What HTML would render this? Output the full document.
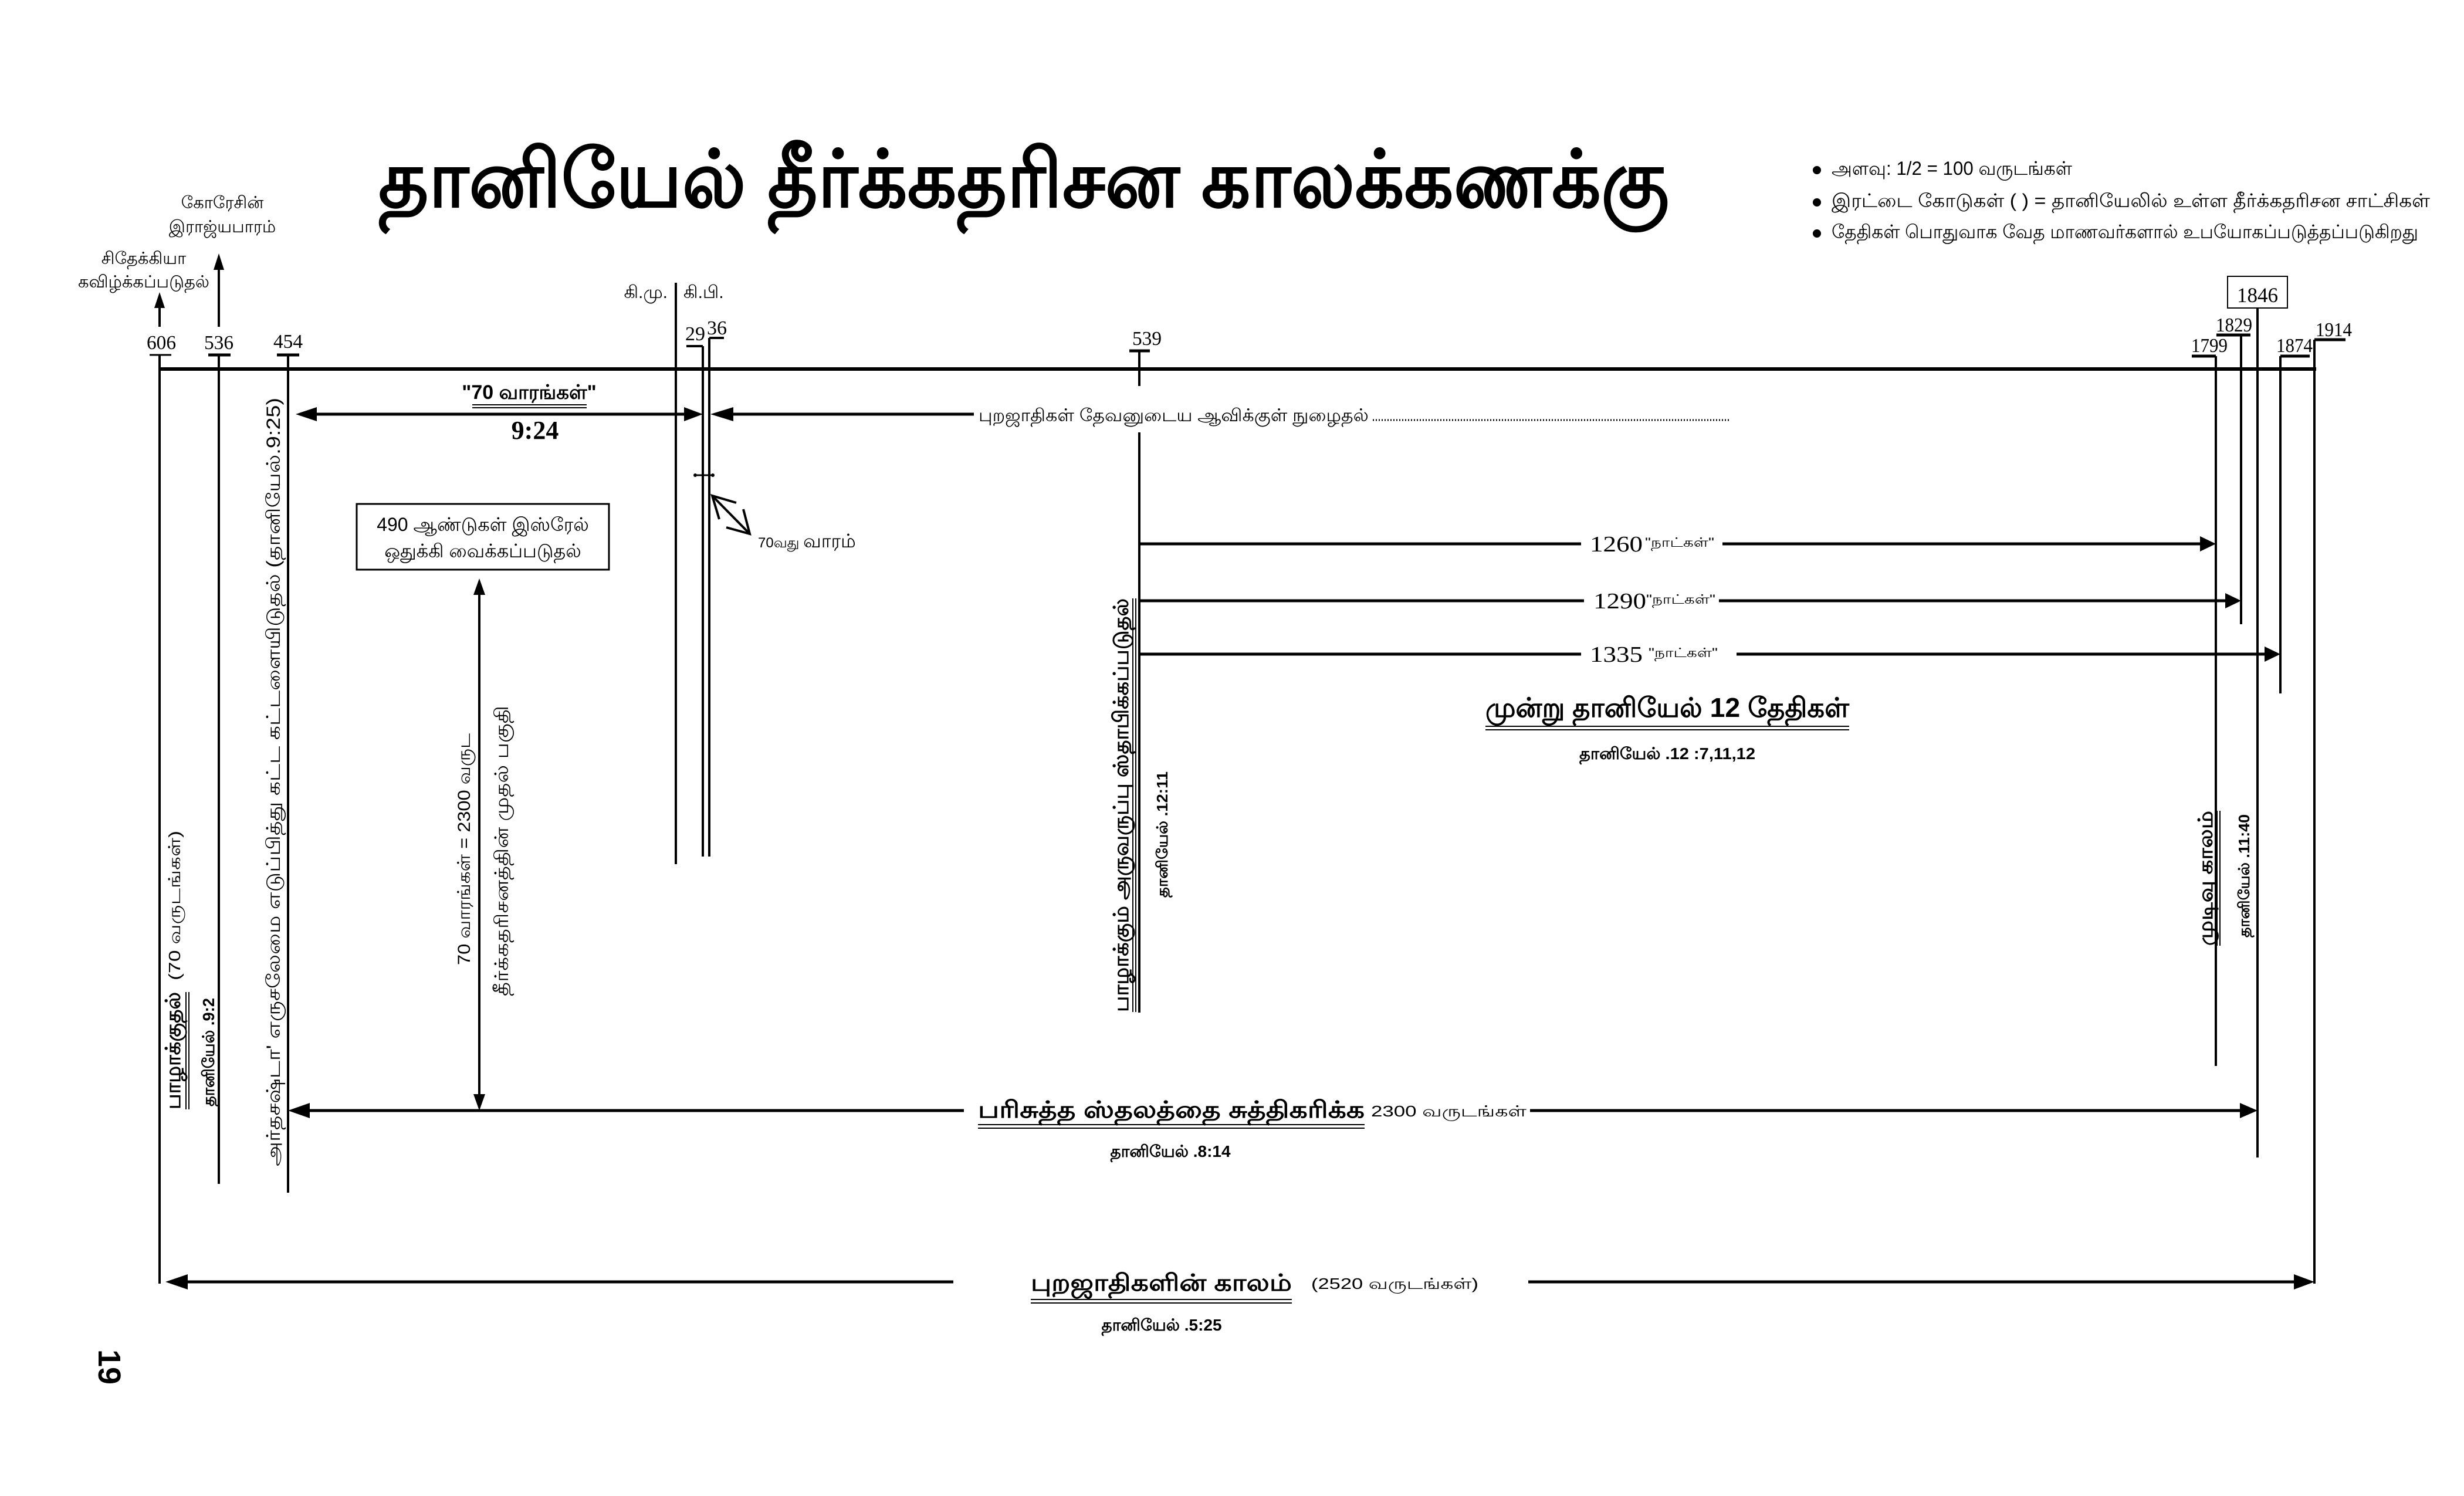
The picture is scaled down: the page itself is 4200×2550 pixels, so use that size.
<!DOCTYPE html>
<html><head><meta charset="utf-8"><style>
html,body{margin:0;padding:0;background:#fff;}
svg{display:block;}
text{font-family:"Liberation Sans","Noto Sans CJK JP",sans-serif;fill:#000;}
.s{font-family:"Liberation Serif","Noto Serif CJK SC",serif;}
</style></head><body>
<svg width="4200" height="2550" viewBox="0 0 4200 2550" xmlns="http://www.w3.org/2000/svg">
<rect width="4200" height="2550" fill="#fff"/>

<!-- Title -->
<text x="1745" y="352" font-size="135" font-weight="bold" text-anchor="middle" textLength="2200" lengthAdjust="spacingAndGlyphs">தானியேல் தீர்க்கதரிசன காலக்கணக்கு</text>

<!-- Legend -->
<g font-size="32">
<circle cx="3097" cy="290" r="7"/><text x="3122" y="298" textLength="410" lengthAdjust="spacingAndGlyphs">அளவு: 1/2 = 100 வருடங்கள்</text>
<circle cx="3097" cy="345" r="7"/><text x="3122" y="353" textLength="1020" lengthAdjust="spacingAndGlyphs">இரட்டை கோடுகள் (     ) = தானியேலில் உள்ள தீர்க்கதரிசன சாட்சிகள்</text>
<circle cx="3097" cy="398" r="7"/><text x="3122" y="406" textLength="1000" lengthAdjust="spacingAndGlyphs">தேதிகள் பொதுவாக வேத மாணவர்களால் உபயோகப்படுத்தப்படுகிறது</text>
</g>

<!-- Top-left labels -->
<g font-size="29" text-anchor="middle">
<text x="379" y="355">கோரேசின்</text>
<text x="379" y="396">இராஜ்யபாரம்</text>
<text x="245" y="450">சிதேக்கியா</text>
<text x="245" y="490">கவிழ்க்கப்படுதல்</text>
</g>
<g stroke="#000" stroke-width="4">
<line x1="272" y1="557" x2="272" y2="520"/>
<line x1="373" y1="557" x2="373" y2="455"/>
</g>
<polygon points="272,498 263,525 281,525"/>
<polygon points="373,432 364,460 382,460"/>

<!-- Main horizontal line -->
<line x1="272" y1="629" x2="3948" y2="629" stroke="#000" stroke-width="6"/>

<!-- Year ticks and labels -->
<g class="s" font-size="34" text-anchor="middle">
<text class="s" x="275" y="595" textLength="50" lengthAdjust="spacingAndGlyphs">606</text>
<text class="s" x="373" y="595" textLength="50" lengthAdjust="spacingAndGlyphs">536</text>
<text class="s" x="491" y="593" textLength="50" lengthAdjust="spacingAndGlyphs">454</text>
<text class="s" x="1185" y="580" textLength="34" lengthAdjust="spacingAndGlyphs">29</text>
<text class="s" x="1222" y="570" textLength="34" lengthAdjust="spacingAndGlyphs">36</text>
<text class="s" x="1955" y="588" textLength="50" lengthAdjust="spacingAndGlyphs">539</text>
<text class="s" x="3766" y="600" textLength="62" lengthAdjust="spacingAndGlyphs">1799</text>
<text class="s" x="3808" y="565" textLength="62" lengthAdjust="spacingAndGlyphs">1829</text>
<text class="s" x="3911" y="600" textLength="62" lengthAdjust="spacingAndGlyphs">1874</text>
<text class="s" x="3978" y="573" textLength="62" lengthAdjust="spacingAndGlyphs">1914</text>
<text class="s" x="3848" y="515" font-size="36" textLength="70" lengthAdjust="spacingAndGlyphs">1846</text>
</g>
<rect x="3797" y="471" width="102" height="54" fill="none" stroke="#000" stroke-width="2"/>
<g stroke="#000">
<line x1="255" y1="605" x2="292" y2="605" stroke-width="3"/>
<line x1="355" y1="605" x2="393" y2="605" stroke-width="5"/>
<line x1="472" y1="605" x2="510" y2="605" stroke-width="5"/>
<line x1="1170" y1="590" x2="1198" y2="590" stroke-width="4"/>
<line x1="1209" y1="576" x2="1234" y2="576" stroke-width="4"/>
<line x1="1925" y1="598" x2="1960" y2="598" stroke-width="5"/>
<line x1="3736" y1="607" x2="3777" y2="607" stroke-width="5"/>
<line x1="3778" y1="571" x2="3836" y2="571" stroke-width="5"/>
<line x1="3887" y1="607" x2="3937" y2="607" stroke-width="5"/>
<line x1="3945" y1="579" x2="3998" y2="579" stroke-width="5"/>
</g>

<!-- Vertical lines -->
<g stroke="#000" stroke-width="4">
<line x1="272" y1="605" x2="272" y2="2188"/>
<line x1="373" y1="605" x2="373" y2="2018"/>
<line x1="491" y1="605" x2="491" y2="2033"/>
<line x1="1152" y1="482" x2="1152" y2="1473"/>
<line x1="1198" y1="590" x2="1198" y2="1460"/>
<line x1="1209" y1="576" x2="1209" y2="1460"/>
<line x1="1942" y1="598" x2="1942" y2="658"/>
<line x1="1942" y1="737" x2="1942" y2="1726"/>
<line x1="3777" y1="607" x2="3777" y2="1817"/>
<line x1="3820" y1="571" x2="3820" y2="1064"/>
<line x1="3848" y1="525" x2="3848" y2="1973"/>
<line x1="3887" y1="607" x2="3887" y2="1182"/>
<line x1="3945" y1="579" x2="3945" y2="2188"/>
</g>

<!-- BC / AD -->
<text x="1138" y="508" font-size="30" text-anchor="end">கி.மு.</text>
<text x="1165" y="508" font-size="30">கி.பி.</text>

<!-- 70 weeks arrow -->
<g stroke="#000" stroke-width="5">
<line x1="520" y1="706" x2="1180" y2="706"/>
<line x1="1228" y1="706" x2="1660" y2="706"/>
</g>
<polygon points="504,706 540,694 540,718"/>
<polygon points="1198,706 1166,694 1166,718"/>
<polygon points="1211,706 1250,694 1250,718"/>
<text x="902" y="680" font-size="34" text-anchor="middle" font-weight="bold">"70 வாரங்கள்"</text>
<line x1="805" y1="690" x2="1000" y2="690" stroke="#000" stroke-width="2"/>
<line x1="805" y1="695" x2="1000" y2="695" stroke="#000" stroke-width="2"/>
<text class="s" x="912" y="748" font-size="44" font-weight="bold" text-anchor="middle">9:24</text>

<!-- gentiles enter -->
<text x="1668" y="718" font-size="30" textLength="665" lengthAdjust="spacingAndGlyphs">புறஜாதிகள் தேவனுடைய ஆவிக்குள் நுழைதல்</text>
<line x1="2340" y1="716" x2="2950" y2="716" stroke="#000" stroke-width="3" stroke-dasharray="2,3"/>

<!-- cross & 70th week -->
<line x1="1185" y1="810" x2="1216" y2="810" stroke="#000" stroke-width="3"/>
<circle cx="1185" cy="810" r="3"/><circle cx="1215" cy="810" r="3"/>
<g stroke="#000" stroke-width="4" fill="none">
<line x1="1214" y1="845" x2="1278" y2="910"/>
<polyline points="1255,857 1214,845 1226,885"/>
<polyline points="1267,868 1278,910 1238,899"/>
</g>
<text x="1292" y="933" font-size="24">70வது <tspan font-size="32">வாரம்</tspan></text>

<!-- 490 box -->
<rect x="608" y="859" width="430" height="112" fill="none" stroke="#000" stroke-width="3"/>
<text x="823" y="905" font-size="32" text-anchor="middle">490 ஆண்டுகள் இஸ்ரேல்</text>
<text x="823" y="950" font-size="32" text-anchor="middle">ஒதுக்கி வைக்கப்படுதல்</text>
<line x1="817" y1="1010" x2="817" y2="1875" stroke="#000" stroke-width="4"/>
<polygon points="817,986 807,1014 827,1014"/>
<polygon points="817,1893 807,1865 827,1865"/>

<!-- 1260 / 1290 / 1335 arrows -->
<g stroke="#000" stroke-width="5">
<line x1="1942" y1="927" x2="2695" y2="927"/><line x1="2936" y1="927" x2="3755" y2="927"/>
<line x1="1942" y1="1024" x2="2700" y2="1024"/><line x1="2930" y1="1024" x2="3798" y2="1024"/>
<line x1="1942" y1="1115" x2="2695" y2="1115"/><line x1="2960" y1="1115" x2="3865" y2="1115"/>
</g>
<polygon points="3777,927 3750,914 3750,940"/>
<polygon points="3820,1024 3793,1011 3793,1037"/>
<polygon points="3887,1115 3860,1102 3860,1128"/>
<g font-size="38">
<text class="s" x="2710" y="940" textLength="90" lengthAdjust="spacingAndGlyphs">1260</text><text x="2804" y="932" font-size="22" textLength="118" lengthAdjust="spacingAndGlyphs">"நாட்கள்"</text>
<text class="s" x="2716" y="1037" textLength="90" lengthAdjust="spacingAndGlyphs">1290</text><text x="2806" y="1029" font-size="22" textLength="118" lengthAdjust="spacingAndGlyphs">"நாட்கள்"</text>
<text class="s" x="2710" y="1128" textLength="90" lengthAdjust="spacingAndGlyphs">1335</text><text x="2810" y="1120" font-size="22" textLength="118" lengthAdjust="spacingAndGlyphs">"நாட்கள்"</text>
</g>

<!-- three dates -->
<text x="2842" y="1222" font-size="46" font-weight="bold" text-anchor="middle" textLength="620" lengthAdjust="spacingAndGlyphs">முன்று தானியேல் 12 தேதிகள்</text>
<line x1="2532" y1="1238" x2="3152" y2="1238" stroke="#000" stroke-width="2"/>
<line x1="2532" y1="1244" x2="3152" y2="1244" stroke="#000" stroke-width="2"/>
<text x="2842" y="1294" font-size="28" font-weight="bold" text-anchor="middle" textLength="300" lengthAdjust="spacingAndGlyphs">தானியேல் .12 :7,11,12</text>

<!-- 2300 arrow -->
<g stroke="#000" stroke-width="5">
<line x1="512" y1="1893" x2="1643" y2="1893"/>
<line x1="2608" y1="1893" x2="3822" y2="1893"/>
</g>
<polygon points="491,1893 528,1880 528,1906"/>
<polygon points="3848,1893 3818,1880 3818,1906"/>
<text x="1667" y="1905" font-size="40" font-weight="bold" textLength="659" lengthAdjust="spacingAndGlyphs">பரிசுத்த ஸ்தலத்தை சுத்திகரிக்க</text>
<text x="2337" y="1903" font-size="26" textLength="265" lengthAdjust="spacingAndGlyphs">2300 வருடங்கள்</text>
<line x1="1667" y1="1917" x2="2326" y2="1917" stroke="#000" stroke-width="2"/>
<line x1="1667" y1="1923" x2="2326" y2="1923" stroke="#000" stroke-width="2"/>
<text x="1995" y="1972" font-size="28" font-weight="bold" text-anchor="middle">தானியேல் .8:14</text>

<!-- 2520 arrow -->
<g stroke="#000" stroke-width="5">
<line x1="300" y1="2185" x2="1625" y2="2185"/>
<line x1="2605" y1="2185" x2="3915" y2="2185"/>
</g>
<polygon points="282,2185 320,2172 320,2198"/>
<polygon points="3945,2185 3910,2172 3910,2198"/>
<text x="1757" y="2200" font-size="40" font-weight="bold" textLength="445" lengthAdjust="spacingAndGlyphs">புறஜாதிகளின் காலம்</text>
<text x="2235" y="2197" font-size="26" textLength="285" lengthAdjust="spacingAndGlyphs">(2520 வருடங்கள்)</text>
<line x1="1757" y1="2215" x2="2202" y2="2215" stroke="#000" stroke-width="2"/>
<line x1="1757" y1="2221" x2="2202" y2="2221" stroke="#000" stroke-width="2"/>
<text x="1980" y="2268" font-size="28" font-weight="bold" text-anchor="middle">தானியேல் .5:25</text>

<!-- vertical texts -->
<g transform="translate(307,1891) rotate(-90)">
<text x="0" y="0" font-size="36" font-weight="bold" textLength="200" lengthAdjust="spacingAndGlyphs">பாழாக்குதல்</text>
<line x1="0" y1="10" x2="200" y2="10" stroke="#000" stroke-width="2"/>
<line x1="0" y1="15" x2="200" y2="15" stroke="#000" stroke-width="2"/>
<text x="220" y="0" font-size="28" textLength="255" lengthAdjust="spacingAndGlyphs">(70 வருடங்கள்)</text>
</g>
<g transform="translate(365,1886) rotate(-90)">
<text x="0" y="0" font-size="28" font-weight="bold" textLength="185" lengthAdjust="spacingAndGlyphs">தானியேல் .9:2</text>
</g>
<g transform="translate(477,1988) rotate(-90)">
<text x="0" y="0" font-size="32" textLength="1310" lengthAdjust="spacingAndGlyphs">அர்தசஷ்டா' எருசலேமை எடுப்பித்து கட்ட கட்டளையிடுதல் (தானியேல்.9:25)</text>
</g>
<g transform="translate(801,1645) rotate(-90)">
<text x="0" y="0" font-size="30" textLength="395" lengthAdjust="spacingAndGlyphs">70 வாரங்கள் = 2300 வருட</text>
</g>
<g transform="translate(866,1698) rotate(-90)">
<text x="0" y="0" font-size="32" textLength="495" lengthAdjust="spacingAndGlyphs">தீர்க்கதரிசனத்தின் முதல் பகுதி</text>
</g>
<g transform="translate(1923,1725) rotate(-90)">
<text x="0" y="0" font-size="36" font-weight="bold" textLength="705" lengthAdjust="spacingAndGlyphs">பாழாக்கும் அருவருப்பு ஸ்தாபிக்கப்படுதல்</text>
<line x1="0" y1="8" x2="705" y2="8" stroke="#000" stroke-width="2"/>
<line x1="0" y1="13" x2="705" y2="13" stroke="#000" stroke-width="2"/>
</g>
<g transform="translate(1990,1530) rotate(-90)">
<text x="0" y="0" font-size="26" font-weight="bold" textLength="215" lengthAdjust="spacingAndGlyphs">தானியேல் .12:11</text>
</g>
<g transform="translate(3771,1612) rotate(-90)">
<text x="0" y="0" font-size="34" font-weight="bold" textLength="230" lengthAdjust="spacingAndGlyphs">முடிவு காலம்</text>
<line x1="0" y1="8" x2="230" y2="8" stroke="#000" stroke-width="2"/>
<line x1="0" y1="13" x2="230" y2="13" stroke="#000" stroke-width="2"/>
</g>
<g transform="translate(3834,1598) rotate(-90)">
<text x="0" y="0" font-size="26" font-weight="bold" textLength="210" lengthAdjust="spacingAndGlyphs">தானியேல் .11:40</text>
</g>

<!-- page number -->
<g transform="translate(168,2330) rotate(90)">
<text x="0" y="0" font-size="54" font-weight="bold" text-anchor="middle">19</text>
</g>
</svg>
</body></html>
